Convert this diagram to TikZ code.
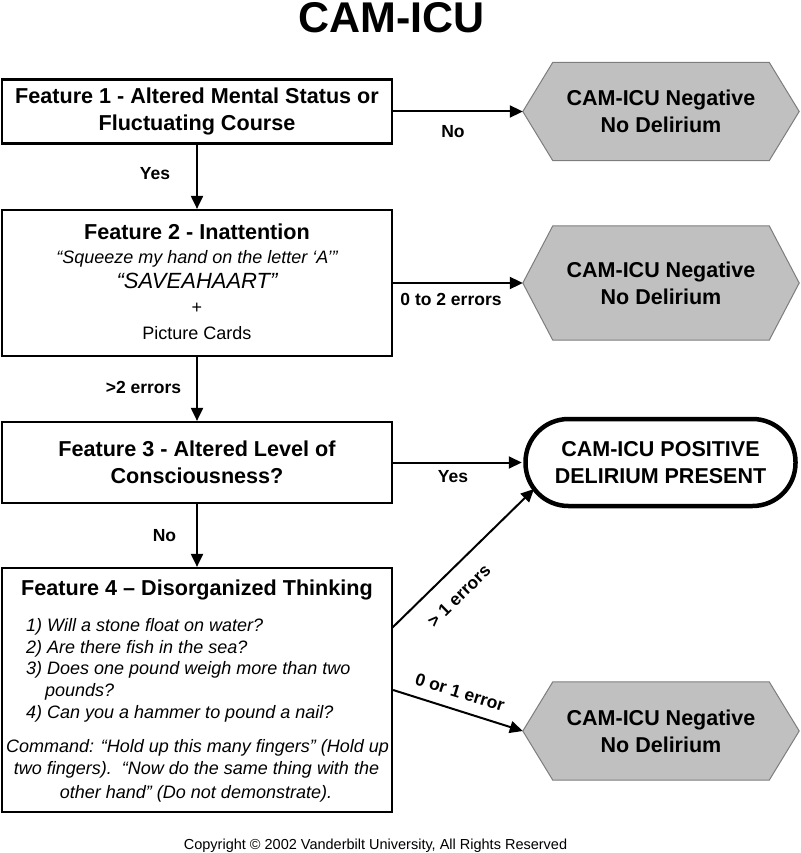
\documentclass[tikz,border=0pt]{standalone}
\usepackage{fontspec}
\setmainfont{Liberation Sans}
\usetikzlibrary{arrows.meta,backgrounds}
\definecolor{hexfill}{RGB}{192,192,192}
\definecolor{hexline}{RGB}{125,125,125}
\begin{document}
\begin{tikzpicture}[x=1pt,y=-1pt,
  box/.style={draw=black, line width=2.2pt, minimum width=390pt, inner sep=0pt},
  boxtext/.style={align=center, inner sep=0pt, font=\bfseries\fontsize{21.6}{27}\selectfont},
  hexnode/.style={minimum width=276pt, inner sep=0pt, align=center, font=\bfseries\fontsize{21.5}{27}\selectfont},
  hexshape/.style={fill=hexfill, draw=hexline, line width=1pt},
  posnode/.style={draw=black, line width=4.5pt, rounded corners=43pt, minimum width=270pt, minimum height=87pt, inner sep=0pt, align=center, font=\bfseries\fontsize{21.5}{27}\selectfont},
  arr/.style={line width=2pt, -{Triangle[length=13pt,width=12pt]}},
  lbl/.style={anchor=base, inner sep=0pt, font=\bfseries\fontsize{17.5}{21}\selectfont},
  itm/.style={anchor=base west, inner sep=0pt, font=\itshape\fontsize{18}{22}\selectfont},
  ctr/.style={anchor=base, inner sep=0pt, font=\fontsize{18}{22}\selectfont}
]
\useasboundingbox (0,0) rectangle (800,853);

% title
\node[anchor=base, inner sep=0pt, font=\bfseries\fontsize{43}{50}\selectfont] (title) at (391.5,33) {CAM-ICU};

% left boxes
\node[box, boxtext, minimum height=64pt] (b1) at (197,111.5) {Feature 1 - Altered Mental Status or\\Fluctuating Course};
\node[box, minimum height=146pt] (b2) at (197,283) {};
\node[box, boxtext, minimum height=81pt] (b3) at (197,462.5) {Feature 3 - Altered Level of\\Consciousness?};
\node[box, minimum height=244pt] (b4) at (197,690) {};

% box 2 text
\node[ctr, font=\bfseries\fontsize{21.6}{27}\selectfont] (f2) at (197,239) {Feature 2 - Inattention};
\node[ctr, font=\itshape\fontsize{18}{22}\selectfont] (f2a) at (197,263.3) {“Squeeze my hand on the letter ‘A’”};
\node[ctr, font=\itshape\fontsize{22}{26}\selectfont] (f2b) at (197,288.3) {“SAVEAHAART”};
\node[ctr] (f2c) at (197,313) {+};
\node[ctr] (f2d) at (197,339.3) {Picture Cards};

% box 4 text
\node[ctr, font=\bfseries\fontsize{21.6}{27}\selectfont] (f4) at (197,595) {Feature 4 – Disorganized Thinking};
\node[itm] (q1) at (26,631) {1) Will a stone float on water?};
\node[itm] (q2) at (26,653) {2) Are there fish in the sea?};
\node[itm] (q3) at (26,674.5) {3) Does one pound weigh more than two};
\node[itm] (q3b) at (45,696) {pounds?};
\node[itm] (q4) at (26,718) {4) Can you a hammer to pound a nail?};
\node[ctr, font=\itshape\fontsize{18}{22}\selectfont] (c1) at (197.5,752.7) {Command: “Hold up this many fingers” (Hold up};
\node[ctr, font=\itshape\fontsize{18}{22}\selectfont] (c2) at (196.5,774.3) {two fingers).\ \ “Now do the same thing with the};
\node[ctr, font=\itshape\fontsize{18}{22}\selectfont] (c3) at (196,798.3) {other hand” (Do not demonstrate).};

% right side outcomes
\node[hexnode, minimum height=98pt] (h1) at (661,111.5) {CAM-ICU Negative\\No Delirium};
\node[hexnode, minimum height=114pt] (h2) at (661,283) {CAM-ICU Negative\\No Delirium};
\node[hexnode, minimum height=98pt] (h3) at (661,731) {CAM-ICU Negative\\No Delirium};
\node[posnode] (pos) at (660.5,462.5) {CAM-ICU POSITIVE\\DELIRIUM PRESENT};

\begin{scope}[on background layer]
  \foreach \h in {h1,h2,h3} {
    \draw[hexshape] (\h.west) -- ([xshift=30pt]\h.north west) -- ([xshift=-30pt]\h.north east)
      -- (\h.east) -- ([xshift=-30pt]\h.south east) -- ([xshift=30pt]\h.south west) -- cycle;
  }
\end{scope}

% connectors
\coordinate (b4up) at (392,628);
\coordinate (posin) at (534,489);
\draw[arr] (b1.east) -- (h1.west);
\draw[arr] (b1.south) -- (b2.north);
\draw[arr] (b2.east) -- (h2.west);
\draw[arr] (b2.south) -- (b3.north);
\draw[arr, shorten >=1.5pt] (b3.east) -- (pos.west);
\draw[arr] (b3.south) -- (b4.north);
\draw[arr] (b4up) -- (posin);
\draw[arr] (b4.east) -- (h3.west);

% connector labels
\node[lbl] (l1) at (453,138) {No};
\node[lbl] (l2) at (155,179) {Yes};
\node[lbl] (l3) at (451,305) {0 to 2 errors};
\node[lbl] (l4) at (143.5,393) {>2 errors};
\node[lbl] (l5) at (453,482) {Yes};
\node[lbl] (l6) at (164.5,541) {No};
\node[inner sep=0pt, font=\bfseries\fontsize{17.5}{21}\selectfont, rotate=44.6] (l7) at (459,596) {> 1 errors};
\node[inner sep=0pt, font=\bfseries\fontsize{17.5}{21}\selectfont, rotate=-17.1] (l8) at (460,692) {0 or 1 error};

% footer
\node[anchor=base, inner sep=0pt, font=\fontsize{14.5}{17}\selectfont] (copy) at (375.5,849) {Copyright © 2002 Vanderbilt University, All Rights Reserved};
\end{tikzpicture}
\end{document}
